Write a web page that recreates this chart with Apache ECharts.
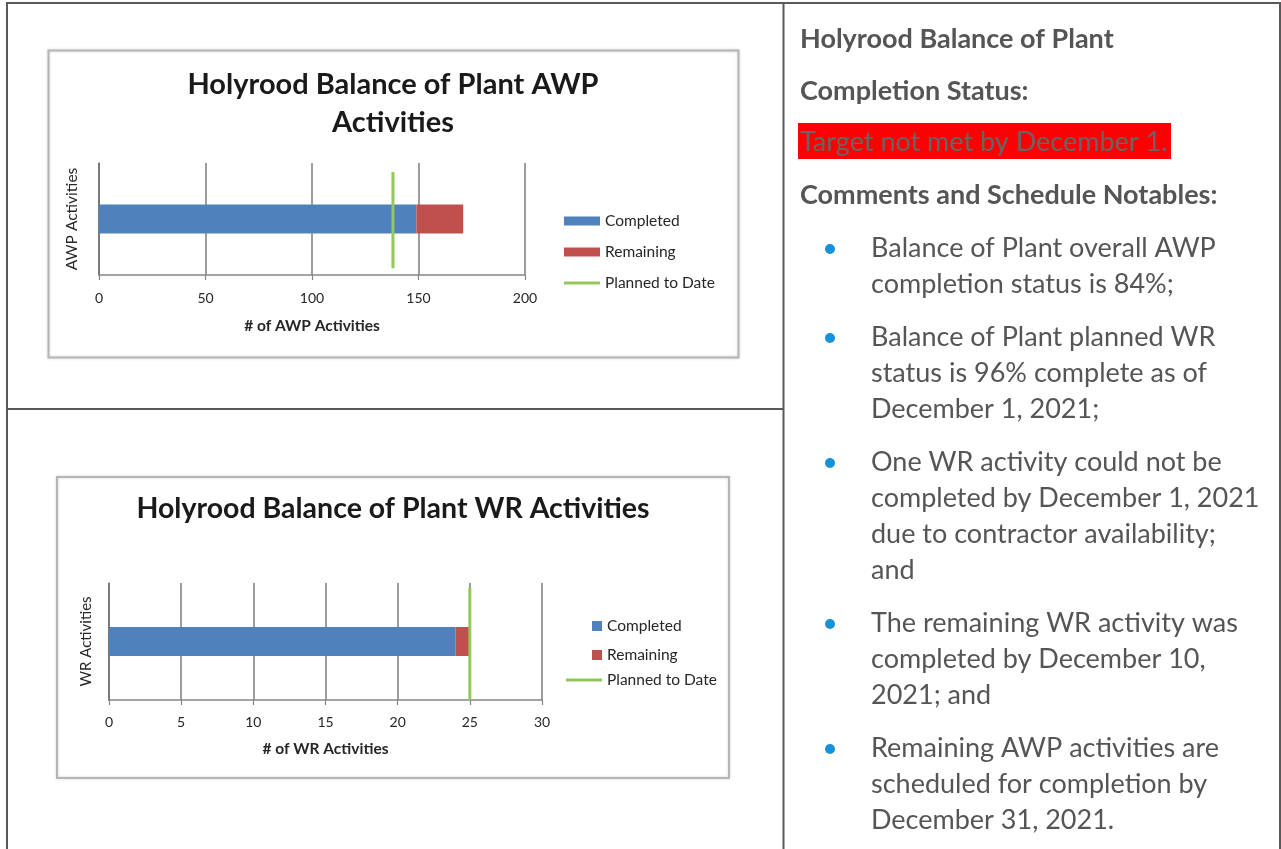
<!DOCTYPE html>
<html>
<head>
<meta charset="utf-8">
<script src="https://cdn.jsdelivr.net/npm/echarts@6/dist/echarts.min.js"></script>
<style>
  html, body { margin: 0; padding: 0; background: #fff; }
  #c { width: 1281px; height: 849px; }
</style>
</head>
<body>
<div id="c"></div>
<script>
// ---------- data ----------
const awpCategories = ['AWP Activities'];
const awpCompleted = [149];
const awpRemaining = [22];
const awpPlanned = 138;
const awpTicks = [0, 50, 100, 150, 200];

const wrCategories = ['WR Activities'];
const wrCompleted = [24];
const wrRemaining = [1];
const wrPlanned = 25;
const wrTicks = [0, 5, 10, 15, 20, 25, 30];

const legendNames = ['Completed', 'Remaining', 'Planned to Date'];

// vertical extent of the "planned" marker line (fraction of plot height)
const awpPlanSpan = [0.06, 0.92];
const wrPlanSpan = [0.0, 0.96];

const titleAwp = 'Holyrood Balance of Plant AWP\nActivities';
const titleWr = 'Holyrood Balance of Plant WR Activities';

const sideHeading1 = 'Holyrood Balance of Plant';
const sideHeading2 = 'Completion Status:';
const sideStatus = 'Target not met by December 1.';
const sideHeading3 = 'Comments and Schedule Notables:';
const sideBullets = [
  ['Balance of Plant overall AWP', 'completion status is 84%;'],
  ['Balance of Plant planned WR', 'status is 96% complete as of', 'December 1, 2021;'],
  ['One WR activity could not be', 'completed by December 1, 2021', 'due to contractor availability;', 'and'],
  ['The remaining WR activity was', 'completed by December 10,', '2021; and'],
  ['Remaining AWP activities are', 'scheduled for completion by', 'December 31, 2021.']
];

// ---------- styles ----------
const FONT = 'Lato';
const C_BLUE = '#4F81BD', C_RED = '#C0504D', C_GREEN = '#93C85A';
const C_GRID = '#7c7c7c', C_TXT = '#262626', C_SIDE = '#555555';
const BORDER = '#595959';
const LINE_ICON = 'path://M0,0 L36,0 L36,3 L0,3 Z';

function xAxisCfg(grid, ticks, name, labelMargin, nameGap) {
  return {
    gridIndex: grid, type: 'value',
    min: ticks[0], max: ticks[ticks.length - 1], interval: ticks[1] - ticks[0],
    axisLine: { show: true, lineStyle: { color: '#868686', width: 1.5 } },
    axisTick: { show: true, length: 5, lineStyle: { color: '#868686', width: 1.2 } },
    splitLine: { show: true, lineStyle: { color: C_GRID, width: 1.5 } },
    axisLabel: { margin: labelMargin, fontSize: 14, color: C_TXT, fontFamily: FONT },
    name: name, nameLocation: 'middle', nameGap: nameGap,
    nameTextStyle: { fontWeight: 'bold', fontSize: 15.5, color: C_TXT, fontFamily: FONT }
  };
}
function yCatCfg(grid, cats, nameGap, size) {
  return {
    gridIndex: grid, type: 'category', data: cats,
    axisLabel: { show: false }, axisTick: { show: false },
    axisLine: { show: true, lineStyle: { color: '#6e6e6e', width: 1.5 } },
    name: cats[0], nameLocation: 'middle', nameGap: nameGap,
    nameTextStyle: { fontSize: size, color: C_TXT, fontFamily: FONT }
  };
}

// ---------- side text / frames as graphics ----------
const graphics = [];
const lineEl = (x1, y1, x2, y2) => ({ type: 'line', shape: { x1, y1, x2, y2 }, style: { stroke: BORDER, lineWidth: 2 }, silent: true });
graphics.push(lineEl(7, 3, 1280, 3));
graphics.push(lineEl(7, 2, 7, 849));
graphics.push(lineEl(1280, 2, 1280, 849));
graphics.push(lineEl(783.5, 2, 783.5, 849));
graphics.push(lineEl(7, 409, 783.5, 409));
graphics.push({ type: 'rect', shape: { x: 48.5, y: 50.5, width: 690, height: 307 },
  style: { fill: 'none', stroke: '#b5b5b5', lineWidth: 2, shadowBlur: 3, shadowColor: 'rgba(0,0,0,0.18)' }, silent: true, z: -1 });
graphics.push({ type: 'rect', shape: { x: 57, y: 477, width: 672, height: 301 },
  style: { fill: 'none', stroke: '#b5b5b5', lineWidth: 2, shadowBlur: 3, shadowColor: 'rgba(0,0,0,0.18)' }, silent: true, z: -1 });

const sideX = 800, bulletX = 830, bulletTextX = 871;
const txt = (text, x, y, weight, color) => ({
  type: 'text', silent: true,
  style: { text, x, y, fill: color, font: weight + ' 27px ' + FONT, align: 'left', verticalAlign: 'middle' }
});
graphics.push(txt(sideHeading1, sideX, 39, 'bold', C_SIDE));
graphics.push(txt(sideHeading2, sideX, 91, 'bold', C_SIDE));
graphics.push({ type: 'rect', silent: true, shape: { x: 798, y: 123, width: 373, height: 36 }, style: { fill: '#FF0000' } });
graphics.push(txt(sideStatus, sideX, 142, 'normal', '#666666'));
graphics.push(txt(sideHeading3, sideX, 195, 'bold', C_SIDE));
let y = 248;
const lineStep = 36, paraExtra = 17;
sideBullets.forEach(par => {
  graphics.push({ type: 'circle', silent: true, shape: { cx: bulletX, cy: y + 1, r: 5 }, style: { fill: '#1592DA' } });
  par.forEach((ln, i) => graphics.push(txt(ln, bulletTextX, y + i * lineStep, 'normal', C_SIDE)));
  y += par.length * lineStep + paraExtra;
});

// ---------- option ----------
const legendText = { fontSize: 15.5, color: C_TXT, fontFamily: FONT };
const option = {
  animation: false,
  textStyle: { fontFamily: FONT },
  title: [
    { text: titleAwp, left: 393, top: 66, textAlign: 'center', padding: 0,
      textStyle: { fontFamily: FONT, fontWeight: 'bold', fontSize: 29, lineHeight: 38, color: '#1a1a1a' } },
    { text: titleWr, left: 393, top: 494, textAlign: 'center', padding: 0,
      textStyle: { fontFamily: FONT, fontWeight: 'bold', fontSize: 28.5, lineHeight: 30, color: '#1a1a1a' } }
  ],
  legend: [
    { left: 564, top: 213, orient: 'vertical', padding: 0, itemWidth: 36, itemHeight: 9, itemGap: 15,
      symbolKeepAspect: true,
      data: [
        { name: legendNames[0], icon: 'rect' },
        { name: legendNames[1], icon: 'rect' },
        { name: legendNames[2], icon: LINE_ICON, itemStyle: { color: C_GREEN } }
      ],
      selectedMode: false, textStyle: legendText },
    { left: 592, top: 618, orient: 'vertical', padding: 0, itemWidth: 10, itemHeight: 10, itemGap: 13,
      data: [{ name: legendNames[0], icon: 'rect' }, { name: legendNames[1], icon: 'rect' }],
      selectedMode: false, textStyle: legendText },
    { left: 566, top: 672, orient: 'vertical', padding: 0, itemWidth: 36, itemHeight: 10,
      symbolKeepAspect: true,
      data: [{ name: legendNames[2], icon: LINE_ICON, itemStyle: { color: C_GREEN } }],
      selectedMode: false, textStyle: legendText }
  ],
  grid: [
    { left: 99, top: 163, width: 426, height: 112 },
    { left: 109, top: 583, width: 433, height: 117 }
  ],
  xAxis: [
    xAxisCfg(0, awpTicks, '# of AWP Activities', 16, 43),
    xAxisCfg(1, wrTicks, '# of WR Activities', 15, 41)
  ],
  yAxis: [
    yCatCfg(0, awpCategories, 19, 15.5),
    { gridIndex: 0, type: 'value', min: 0, max: 1, show: false },
    yCatCfg(1, wrCategories, 15, 15),
    { gridIndex: 1, type: 'value', min: 0, max: 1, show: false }
  ],
  series: [
    { type: 'bar', name: legendNames[0], xAxisIndex: 0, yAxisIndex: 0, stack: 'awp', data: awpCompleted, barWidth: 29, itemStyle: { color: C_BLUE } },
    { type: 'bar', name: legendNames[1], xAxisIndex: 0, yAxisIndex: 0, stack: 'awp', data: awpRemaining, barWidth: 29, itemStyle: { color: C_RED } },
    { type: 'line', name: legendNames[2], xAxisIndex: 0, yAxisIndex: 1, z: 5, symbol: 'none',
      data: [[awpPlanned, awpPlanSpan[0]], [awpPlanned, awpPlanSpan[1]]],
      itemStyle: { color: C_GREEN }, lineStyle: { color: C_GREEN, width: 3 } },
    { type: 'bar', name: legendNames[0], xAxisIndex: 1, yAxisIndex: 2, stack: 'wr', data: wrCompleted, barWidth: 29, itemStyle: { color: C_BLUE } },
    { type: 'bar', name: legendNames[1], xAxisIndex: 1, yAxisIndex: 2, stack: 'wr', data: wrRemaining, barWidth: 29, itemStyle: { color: C_RED } },
    { type: 'line', name: legendNames[2], xAxisIndex: 1, yAxisIndex: 3, z: 5, symbol: 'none',
      data: [[wrPlanned, wrPlanSpan[0]], [wrPlanned, wrPlanSpan[1]]],
      itemStyle: { color: C_GREEN }, lineStyle: { color: C_GREEN, width: 3 } }
  ],
  graphic: graphics
};

const chart = echarts.init(document.getElementById('c'), null, { renderer: 'canvas' });
chart.setOption(option);
</script>
</body>
</html>
